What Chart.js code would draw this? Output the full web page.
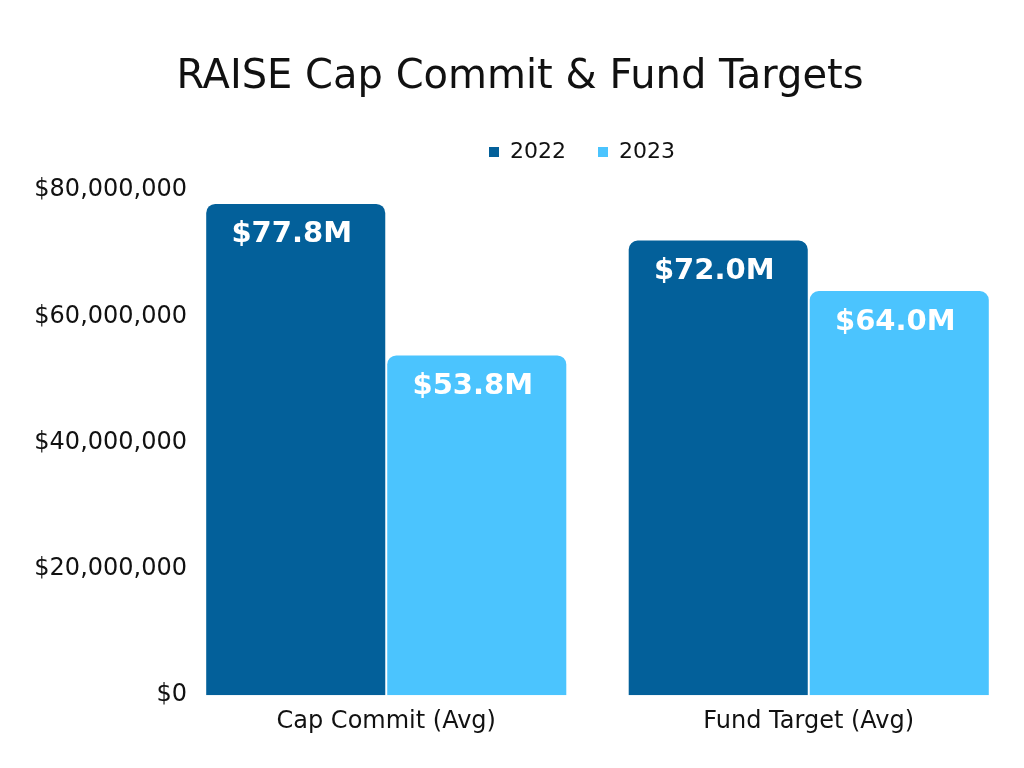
<!DOCTYPE html>
<html>
<head>
<meta charset="utf-8">
<script src="https://cdn.jsdelivr.net/npm/chart.js@4"></script>
<style>
  body { margin: 0; background: #fff; }
  #wrap { width: 1024px; height: 768px; }
</style>
</head>
<body>
<div id="wrap"><canvas id="chart" width="1024" height="768"></canvas></div>
<script>
// chart data
const categories = ['Cap Commit (Avg)', 'Fund Target (Avg)'];
const values2022 = [77800000, 72000000];
const values2023 = [53800000, 64000000];
const labels2022 = ['$77.8M', '$72.0M'];
const labels2023 = ['$53.8M', '$64.0M'];
const yTicks = [0, 20000000, 40000000, 60000000, 80000000];

const FONT = '"DejaVu Sans", sans-serif';

// writes the value text near the top of each bar
const barText = {
    id: 'barText',
    afterDatasetsDraw(chart) {
        const ctx = chart.ctx;
        const texts = [labels2022, labels2023];
        ctx.save();
        ctx.fillStyle = '#ffffff';
        ctx.font = 'bold 29px ' + FONT;
        ctx.textAlign = 'center';
        ctx.textBaseline = 'middle';
        chart.data.datasets.forEach((ds, i) => {
            chart.getDatasetMeta(i).data.forEach((bar, j) => {
                ctx.fillText(texts[i][j], bar.x - 4, bar.y + 31);
            });
        });
        ctx.restore();
    }
};

// more room under the legend, and push it a bit right like the original
const legendTweak = {
    id: 'legendTweak',
    beforeInit(chart) {
        const fit = chart.legend.fit;
        chart.legend.fit = function () {
            fit.bind(chart.legend)();
            this.height += 17;
        };
    },
    afterLayout(chart) {
        chart.legend.left += 62;
        chart.legend.right += 62;
    }
};

new Chart(document.getElementById('chart'), {
    type: 'bar',
    data: {
        labels: categories,
        datasets: [
            { label: '2022', data: values2022, backgroundColor: '#03609a' },
            { label: '2023', data: values2023, backgroundColor: '#4bc4fe' }
        ]
    },
    options: {
        responsive: false,
        animation: false,
        layout: { padding: { left: 20, right: 4, top: 54, bottom: 28 } },
        categoryPercentage: 0.857,
        barPercentage: 0.989,
        borderRadius: { topLeft: 9, topRight: 9 },
        borderSkipped: 'bottom',
        plugins: {
            title: {
                display: true,
                text: 'RAISE Cap Commit & Fund Targets',
                color: '#111111',
                font: { family: FONT, size: 40, weight: 'normal' },
                padding: { top: 0, bottom: 7 }
            },
            legend: {
                display: true,
                labels: {
                    color: '#111111',
                    font: { family: FONT, size: 22 },
                    boxWidth: 10,
                    boxHeight: 10,
                    padding: 32
                }
            },
            tooltip: { enabled: false }
        },
        scales: {
            x: {
                grid: { display: false },
                border: { display: false },
                ticks: {
                    color: '#111111',
                    font: { family: FONT, size: 24 },
                    padding: 4
                }
            },
            y: {
                min: 0,
                max: 80000000,
                afterBuildTicks(scale) {
                    scale.ticks = yTicks.map(v => ({ value: v }));
                },
                afterFit(scale) {
                    scale.width = 155;
                    // labels hang past the axis box, so don't clip them
                    scale._computeLabelArea = () => undefined;
                },
                grid: { display: false, drawTicks: false },
                border: { display: false },
                ticks: {
                    color: '#111111',
                    font: { family: FONT, size: 24 },
                    padding: -12,
                    callback: v => '$' + v.toLocaleString('en-US')
                }
            }
        }
    },
    plugins: [barText, legendTweak]
});
</script>
</body>
</html>
